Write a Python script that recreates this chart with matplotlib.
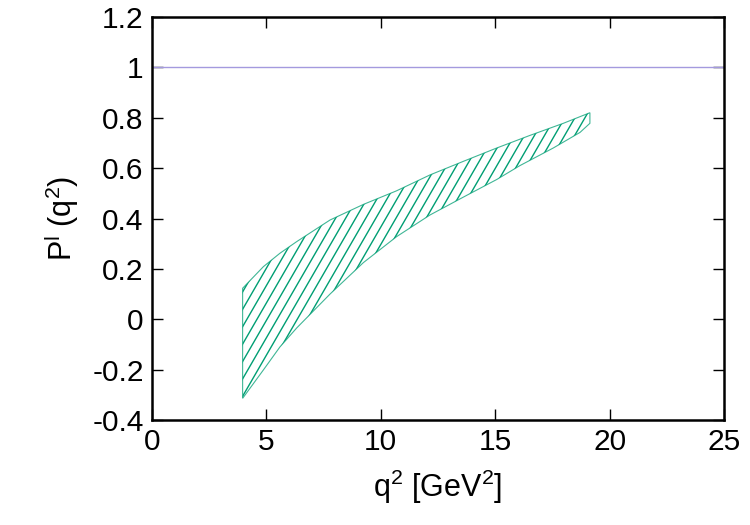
#!/usr/bin/env python3
import numpy as np
import matplotlib; matplotlib.use('Agg'); import matplotlib.pyplot as plt
from matplotlib.patches import Polygon

# band: upper and lower edge of P^l(q^2)
q2_up = [3.96, 4.87, 5.59, 6.32, 7.78, 9.24, 10.69, 12.15, 13.61, 15.07, 16.52, 17.98, 19.14]
p_up = [0.123, 0.209, 0.262, 0.308, 0.394, 0.456, 0.51, 0.573, 0.627, 0.68, 0.73, 0.778, 0.82]
q2_lo = [3.96, 4.87, 5.59, 6.32, 7.78, 9.24, 10.69, 12.15, 13.61, 15.07, 16.08, 17.54, 18.71, 19.14]
p_lo = [-0.314, -0.201, -0.11, -0.035, 0.10, 0.225, 0.328, 0.414, 0.485, 0.555, 0.61, 0.68, 0.742, 0.778]
ref_level = 1.0
xticks = [0, 5, 10, 15, 20, 25]
yticks = [-0.4, -0.2, 0, 0.2, 0.4, 0.6, 0.8, 1, 1.2]
yticklabels = ['-0.4', '-0.2', '0', '0.2', '0.4', '0.6', '0.8', '1', '1.2']

plt.rcParams['font.family'] = ['Liberation Sans', 'DejaVu Sans']
plt.rcParams['mathtext.fontset'] = 'custom'
plt.rcParams['mathtext.rm'] = 'Liberation Sans'
plt.rcParams['mathtext.it'] = 'Liberation Sans'

green = '#009e73'
fig = plt.figure(figsize=(7.5, 5.25), dpi=100)
ax = fig.add_axes([0.2027, 0.2, 0.7626, 0.7676])

ax.axhline(ref_level, color='#a49ade', lw=1)

xs = np.concatenate([q2_up, q2_lo[::-1]]); ys = np.concatenate([p_up, p_lo[::-1]])
poly = Polygon(np.column_stack([xs, ys]), closed=True, facecolor='none', edgecolor=green, lw=0.8, alpha=0.75)
ax.add_patch(poly)

# steep hatch lines (~60 deg on screen), clipped to the band
slope = 0.157; step = 0.44
for x0 in np.arange(-5, 25, step):
    xx = np.array([0, 25])
    ln, = ax.plot(xx, slope*(xx - x0) - 0.4, color=green, lw=1.0)
    ln.set_clip_path(poly)

ax.set_xlim(0, 25); ax.set_ylim(-0.4, 1.2)
ax.set_xticks(xticks); ax.set_yticks(yticks); ax.set_yticklabels(yticklabels)
ax.tick_params(direction='in', length=8, width=1, labelsize=21.5, top=True, right=True, pad=6)
for s in ax.spines.values(): s.set_linewidth(1.8)
ax.set_xlabel(r'q$^2$ [GeV$^2$]', fontsize=22, labelpad=8)
ax.set_ylabel(r'P$^{\rm l}$ (q$^2$)', fontsize=22, labelpad=8)
fig.savefig('out.png', dpi=100)
